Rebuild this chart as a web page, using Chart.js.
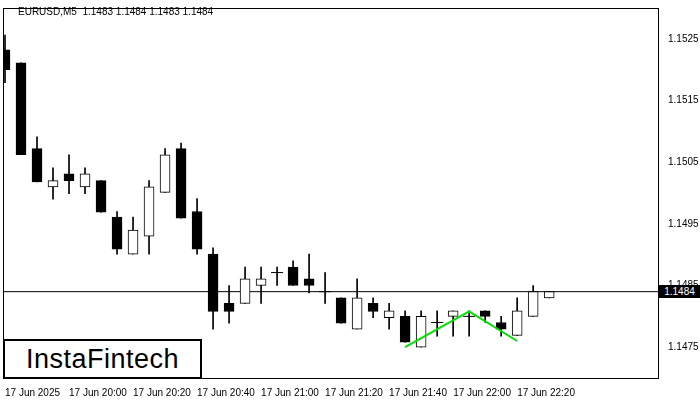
<!DOCTYPE html>
<html lang="en">
<head>
  <meta charset="UTF-8" />
  <title>EURUSD M5</title>
  <script src="https://cdn.jsdelivr.net/npm/chart.js@4.4.0/dist/chart.umd.min.js"></script>
  <style>
    body { margin: 0; background: #fff; font-family: "Liberation Sans", Arial, sans-serif; overflow: hidden; }
    #wrap { position: relative; width: 700px; height: 400px; overflow: hidden; }
    #chart { position: absolute; left: -4px; top: 0; }
    #title { position: absolute; left: 18px; top: 6px; font-size: 10px; color: #000; }
    #logo { position: absolute; left: 3px; top: 339px; width: 195px; height: 36px; border: 2px solid #000;
      background: #fff; font-size: 27px; line-height: 36px; text-align: center; color: #000; letter-spacing: 0.5px; }
    #price { position: absolute; left: 659px; top: 285px; width: 41px; height: 13px; background: #000; color: #fff;
      font-size: 10px; line-height: 13px; text-align: center; }
  </style>
</head>
<body>
  <div id="wrap">
    <canvas id="chart" width="704" height="400"></canvas>
    <div id="title">EURUSD,M5&nbsp; 1.1483 1.1484 1.1483 1.1484</div>
    <div id="logo">InstaFintech</div>
    <div id="price">1.1484</div>
  </div>
  <script>
    const opens  = [1.15232, 1.15211, 1.15072, 1.15010, 1.15031, 1.15010, 1.15020, 1.14961, 1.14901, 1.14930,
      1.15001, 1.15072, 1.14970, 1.14901, 1.14821, 1.14821, 1.14850, 1.14871, 1.14880, 1.14861,
      1.14840, 1.14830, 1.14779, 1.14821, 1.14798, 1.14800, 1.14750, 1.14790, 1.14800, 1.14800,
      1.14809, 1.14790, 1.14769, 1.14800, 1.14830];
    const highs  = [1.15256, 1.15211, 1.15091, 1.15041, 1.15062, 1.15041, 1.15020, 1.14970, 1.14961, 1.15020,
      1.15072, 1.15081, 1.14991, 1.14911, 1.14850, 1.14880, 1.14880, 1.14880, 1.14890, 1.14901,
      1.14871, 1.14830, 1.14861, 1.14830, 1.14821, 1.14809, 1.14809, 1.14809, 1.14809, 1.14809,
      1.14809, 1.14800, 1.14830, 1.14850, 1.14840];
    const lows   = [1.15179, 1.15062, 1.15018, 1.14990, 1.14999, 1.14999, 1.14969, 1.14901, 1.14901, 1.14901,
      1.15001, 1.14959, 1.14901, 1.14779, 1.14789, 1.14821, 1.14821, 1.14850, 1.14850, 1.14838,
      1.14821, 1.14789, 1.14779, 1.14798, 1.14779, 1.14758, 1.14750, 1.14768, 1.14768, 1.14768,
      1.14790, 1.14768, 1.14769, 1.14800, 1.14830];
    const closes = [1.15200, 1.15062, 1.15018, 1.15020, 1.15020, 1.15031, 1.14969, 1.14909, 1.14940, 1.15010,
      1.15062, 1.14959, 1.14909, 1.14808, 1.14808, 1.14861, 1.14861, 1.14871, 1.14850, 1.14850,
      1.14840, 1.14789, 1.14830, 1.14808, 1.14809, 1.14758, 1.14800, 1.14790, 1.14809, 1.14800,
      1.14800, 1.14779, 1.14809, 1.14840, 1.14840];
    const timeLabels = ["17 Jun 2025", "17 Jun 20:00", "17 Jun 20:20", "17 Jun 20:40", "17 Jun 21:00",
      "17 Jun 21:20", "17 Jun 21:40", "17 Jun 22:00", "17 Jun 22:20"];
    const priceTicks = [1.1475, 1.1485, 1.1495, 1.1505, 1.1515, 1.1525];
    const patternX = [25, 29, 32];
    const patternY = [1.14750, 1.14808, 1.14760];
    const lastPrice = 1.1484;

    const wicks = opens.map((o, i) => ({ x: i, y: [lows[i], highs[i]] }));
    const bodies = [], dojis = [];
    opens.forEach((o, i) => {
      if (o === closes[i]) dojis.push({ x: i, y: o });
      else bodies.push({ x: i, y: [o, closes[i]] });
    });
    const bodyColors = bodies.map(b => b.y[1] > b.y[0] ? "#fff" : "#000");

    const frame = {
      id: "frame",
      afterDraw(c) {
        const a = c.chartArea, g = c.ctx;
        g.save(); g.strokeStyle = "#000"; g.lineWidth = 1;
        g.strokeRect(a.left + 0.5, a.top + 0.5, a.right - a.left, a.bottom - a.top);
        g.restore();
      }
    };

    new Chart(document.getElementById("chart"), {
      type: "bar",
      data: {
        datasets: [
          { type: "line", data: [{ x: -1, y: lastPrice }, { x: 42, y: lastPrice }], borderColor: "#000",
            borderWidth: 1, pointRadius: 0, order: 3 },
          { data: wicks, backgroundColor: "#000", barThickness: 1, grouped: false, order: 2 },
          { data: bodies, backgroundColor: bodyColors, borderColor: "#000", borderWidth: 1,
            borderSkipped: false, barThickness: 10, grouped: false, order: 1 },
          { type: "scatter", data: dojis, pointStyle: "line", radius: 6, borderColor: "#000",
            borderWidth: 1, order: 0 },
          { type: "line", data: patternX.map((x, i) => ({ x, y: patternY[i] })), borderColor: "#00e000",
            borderWidth: 2, pointRadius: 0, order: -1 }
        ]
      },
      options: {
        responsive: false,
        animation: false,
        layout: { padding: { left: 0, top: 5, right: 0, bottom: 0 } },
        plugins: { legend: { display: false }, tooltip: { enabled: false } },
        scales: {
          x: {
            type: "linear", min: -0.125, max: 40.8, offset: false,
            grid: { display: false, drawTicks: true },
            border: { display: false },
            afterFit: s => { s.height = 22; },
            afterBuildTicks: s => { s.ticks = timeLabels.map((t, i) => ({ value: i * 4 })); },
            ticks: { align: "start", maxRotation: 0, autoSkip: false, color: "#000", padding: 1,
              font: { size: 10, family: "Liberation Sans" },
              callback: v => timeLabels[v / 4] }
          },
          y: {
            position: "right", min: 1.1470, max: 1.1530,
            grid: { display: false },
            border: { display: false },
            afterFit: s => { s.width = 42; },
            afterBuildTicks: s => { s.ticks = priceTicks.map(v => ({ value: v })); },
            ticks: { color: "#000", padding: 2, font: { size: 10, family: "Liberation Sans" },
              callback: v => v.toFixed(4) }
          }
        }
      },
      plugins: [frame]
    });
  </script>
</body>
</html>
